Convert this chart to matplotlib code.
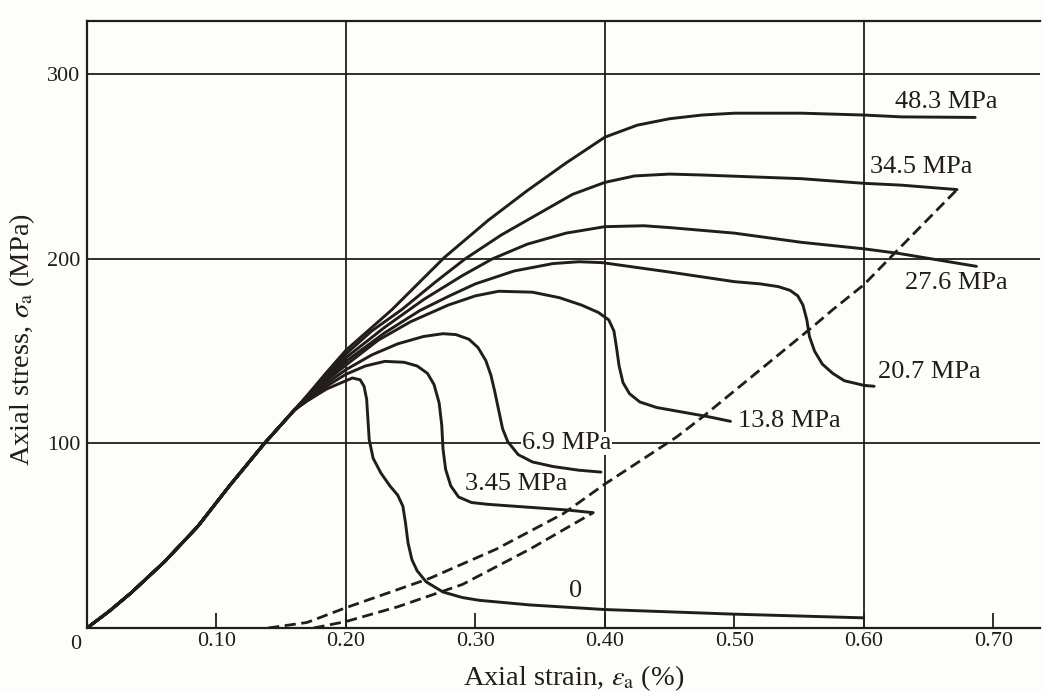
import matplotlib
matplotlib.use("Agg")
import matplotlib.pyplot as plt

plt.rcParams['font.family'] = ['Liberation Serif', 'DejaVu Serif']
plt.rcParams['mathtext.fontset'] = 'stix'

INK = '#221d1b'

# shared elastic loading branch (strain %, stress MPa)
base_x = [0.0, 0.017, 0.034, 0.06, 0.0855, 0.11, 0.137, 0.16]
base_y = [0.0, 9, 19, 36, 55, 77, 100, 118]

# confining pressure 0
c0_x = [0.17, 0.185, 0.2, 0.205, 0.211, 0.214, 0.216, 0.217, 0.218, 0.221, 0.227,
        0.234, 0.24, 0.244, 0.246, 0.248, 0.251, 0.255, 0.262, 0.275, 0.29, 0.303,
        0.342, 0.4, 0.5, 0.6]
c0_y = [123, 129.5, 134, 135.5, 134.5, 131, 124, 113, 102, 92, 84,
        77, 72, 66, 57, 46, 37, 31, 25, 19.5, 16.5, 15,
        12.5, 10, 7.5, 5.5]

# 3.45 MPa
c345_x = [0.17, 0.185, 0.2, 0.215, 0.23, 0.245, 0.255, 0.263, 0.268, 0.272, 0.274,
          0.275, 0.277, 0.281, 0.287, 0.297, 0.31, 0.34, 0.37, 0.391]
c345_y = [123.5, 131, 137.5, 142, 144.5, 144, 142, 138, 132, 122, 110,
          97, 86, 77, 71, 68, 67, 65.5, 64, 62.5]

# 6.9 MPa
c69_x = [0.17, 0.185, 0.2, 0.22, 0.24, 0.26, 0.275, 0.285, 0.295, 0.302, 0.308,
         0.312, 0.315, 0.318, 0.321, 0.325, 0.333, 0.344, 0.36, 0.38, 0.397]
c69_y = [124, 132.5, 140, 148, 154, 158, 159.5, 159, 156.5, 152, 145,
         137, 128, 118, 108, 101, 94, 90, 87.5, 85.5, 84.5]

# 13.8 MPa
c138_x = [0.17, 0.185, 0.2, 0.225, 0.25, 0.279, 0.3, 0.318, 0.344, 0.365, 0.382,
          0.395, 0.403, 0.407, 0.409, 0.411, 0.414, 0.419, 0.427, 0.44, 0.46,
          0.48, 0.497]
c138_y = [124.5, 134, 142.5, 156, 166, 175, 180, 182.5, 182, 179, 175,
          171, 167, 161, 152, 142, 133, 127, 122.5, 119.5, 117,
          114.5, 112]

# 20.7 MPa
c207_x = [0.17, 0.185, 0.2, 0.23, 0.257, 0.28, 0.3, 0.33, 0.36, 0.38, 0.398, 0.449,
          0.5, 0.52, 0.534, 0.543, 0.549, 0.553, 0.556, 0.558, 0.562, 0.568,
          0.576, 0.585, 0.6, 0.608]
c207_y = [125, 135, 144.5, 160, 172, 180, 186.5, 193.5, 197.5, 198.5, 198, 193,
          187.7, 186.5, 185, 183, 180, 175, 167, 158, 150, 143,
          138, 134, 131.5, 131]

# 27.6 MPa
c276_x = [0.17, 0.185, 0.2, 0.23, 0.26, 0.29, 0.313, 0.34, 0.37, 0.4, 0.43, 0.45,
          0.5, 0.552, 0.6, 0.627, 0.687]
c276_y = [125.3, 136, 146.5, 163, 178, 191, 200, 208, 214, 217.5, 218, 217,
          214, 209, 205.5, 203, 196]

# 34.5 MPa
c345b_x = [0.17, 0.185, 0.2, 0.22, 0.243, 0.27, 0.292, 0.32, 0.35, 0.375, 0.4, 0.423,
           0.45, 0.475, 0.552, 0.6, 0.629, 0.672]
c345b_y = [125.6, 137, 148.5, 161, 172.5, 188, 200, 213, 225, 235, 241.5, 245,
           246, 245.5, 243.5, 241, 240, 237.6]

# 48.3 MPa
c483_x = [0.17, 0.185, 0.2, 0.2355, 0.276, 0.31, 0.34, 0.37, 0.4, 0.425, 0.45,
          0.475, 0.5, 0.552, 0.6, 0.629, 0.686]
c483_y = [126, 138.5, 150.5, 172.5, 200.8, 221, 237, 252, 266, 272.5, 276,
          278, 279, 279, 278, 277, 276.7]

# unloading branches (dashed)
unl_hi_x = [0.14, 0.17, 0.2, 0.265, 0.316, 0.368, 0.4, 0.4556, 0.4757,
            0.5606, 0.576, 0.6, 0.625, 0.672]
unl_hi_y = [0, 3, 11, 27, 42.7, 62, 78, 103.6, 114.5,
            163.3, 172.5, 186, 204, 237.6]
unl_lo_x = [0.175, 0.2, 0.24, 0.29, 0.342, 0.391]
unl_lo_y = [0, 3.5, 11.5, 23.6, 42.7, 62.5]

curves = [(c0_x, c0_y), (c345_x, c345_y), (c69_x, c69_y), (c138_x, c138_y),
          (c207_x, c207_y), (c276_x, c276_y), (c345b_x, c345b_y), (c483_x, c483_y)]

labels = ['0', '3.45 MPa', '6.9 MPa', '13.8 MPa', '20.7 MPa', '27.6 MPa', '34.5 MPa', '48.3 MPa']
label_x = [0.372, 0.292, 0.336, 0.503, 0.611, 0.632, 0.605, 0.624]
label_y = [20, 78, 100, 112, 139, 187, 250, 285]

xticks = [0.1, 0.2, 0.3, 0.4, 0.5, 0.6, 0.7]
xtick_labels = ['0.10', '0.20', '0.30', '0.40', '0.50', '0.60', '0.70']
yticks = [100, 200, 300]
ytick_labels = ['100', '200', '300']

fig = plt.figure(figsize=(10.43, 6.93), dpi=100, facecolor='#fdfdfb')
ax = fig.add_axes([0.0834, 0.0938, 0.9136, 0.876])
ax.set_facecolor('#fdfdfb')
ax.set_xlim(0, 0.736)
ax.set_ylim(0, 329)

for v in [0.2, 0.4, 0.6]:
    ax.axvline(v, color=INK, lw=1.3, zorder=1)
for h in yticks:
    ax.axhline(h, color=INK, lw=1.3, zorder=1)

for cx, cy in curves:
    ax.plot(base_x + cx, base_y + cy, color=INK, lw=2.1, zorder=3,
            solid_joinstyle='round', solid_capstyle='round')

ax.plot(unl_hi_x, unl_hi_y, color=INK, lw=2.0, ls=(0, (4, 2)), zorder=3)
ax.plot(unl_lo_x, unl_lo_y, color=INK, lw=2.0, ls=(0, (4, 2)), zorder=3)

for t, lx, ly in zip(labels, label_x, label_y):
    ax.text(lx, ly, t, fontsize=19, color=INK, ha='left', va='center', zorder=4,
            bbox=dict(facecolor='#fdfdfb', edgecolor='none', pad=0.5))

for side in ['left', 'bottom', 'top']:
    ax.spines[side].set_color(INK)
    ax.spines[side].set_linewidth(1.6)
ax.spines['right'].set_visible(False)

ax.set_xticks(xticks)
ax.set_xticklabels(xtick_labels)
ax.set_yticks(yticks)
ax.set_yticklabels(ytick_labels)
ax.tick_params(axis='x', direction='in', length=11, width=1.3, color=INK,
               labelsize=16, labelcolor=INK, pad=3)
ax.tick_params(axis='y', length=0, labelsize=16, labelcolor=INK, pad=5)
ax.annotate('0', xy=(0, 0), xytext=(-8, -12), textcoords='offset points',
            ha='center', va='center', fontsize=16, color=INK)

ax.set_xlabel(r'Axial strain, $\epsilon_{\mathrm{a}}$ (%)', fontsize=20.5, color=INK)
ax.xaxis.set_label_coords(0.511, -0.058)
ax.set_ylabel(r'Axial stress, $\sigma_{\mathrm{a}}$ (MPa)', fontsize=20.5, color=INK)
ax.yaxis.set_label_coords(-0.052, 0.475)

fig.savefig('out.png', dpi=100, facecolor=fig.get_facecolor())
